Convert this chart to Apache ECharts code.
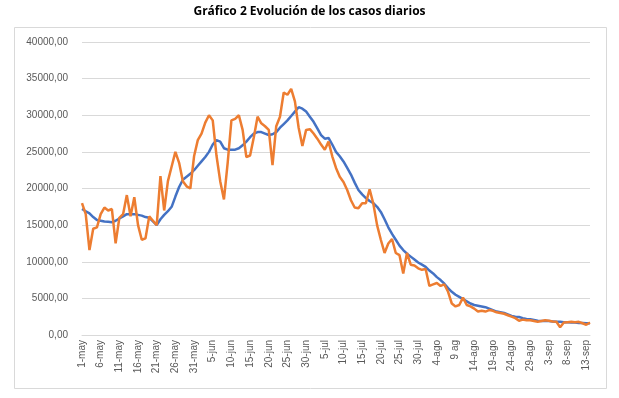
<!DOCTYPE html>
<html>
<head>
<meta charset="utf-8">
<script src="https://cdn.jsdelivr.net/npm/echarts@6/dist/echarts.min.js"></script>
<style>
html,body{margin:0;padding:0;background:#fff;}
#c{width:619px;height:398px;}
</style>
</head>
<body>
<div id="c"></div>
<script>
const titleText = "Gráfico 2 Evolución de los casos diarios";

const categories = [
"1-may","2-may","3-may","4-may","5-may","6-may","7-may","8-may","9-may","10-may",
"11-may","12-may","13-may","14-may","15-may","16-may","17-may","18-may","19-may","20-may",
"21-may","22-may","23-may","24-may","25-may","26-may","27-may","28-may","29-may","30-may",
"31-may","1-jun","2-jun","3-jun","4-jun","5-jun","6-jun","7-jun","8-jun","9-jun",
"10-jun","11-jun","12-jun","13-jun","14-jun","15-jun","16-jun","17-jun","18-jun","19-jun",
"20-jun","21-jun","22-jun","23-jun","24-jun","25-jun","26-jun","27-jun","28-jun","29-jun",
"30-jun","1-jul","2-jul","3-jul","4-jul","5-jul","6-jul","7-jul","8-jul","9-jul",
"10-jul","11-jul","12-jul","13-jul","14-jul","15-jul","16-jul","17-jul","18-jul","19-jul",
"20-jul","21-jul","22-jul","23-jul","24-jul","25-jul","26-jul","27-jul","28-jul","29-jul",
"30-jul","31-jul","1-ago","2-ago","3-ago","4-ago","5-ago","6-ago","7-ago","8-ago",
"9 ag","10-ago","11-ago","12-ago","13-ago","14-ago","15-ago","16-ago","17-ago","18-ago",
"19-ago","20-ago","21-ago","22-ago","23-ago","24-ago","25-ago","26-ago","27-ago","28-ago",
"29-ago","30-ago","31-ago","1-sep","2-sep","3-sep","4-sep","5-sep","6-sep","7-sep",
"8-sep","9-sep","10-sep","11-sep","12-sep","13-sep","14-sep"
];

const dailyCases = [
18000,16500,11600,14500,14700,16500,17400,17000,17200,12500,
16000,16500,19100,16200,18800,15000,13000,13200,16200,15600,
15000,21700,17000,21000,23000,25000,23500,21000,20300,20000,
24400,26600,27500,29000,30000,29300,24500,21000,18500,23500,
29300,29500,30000,28000,24300,24500,27000,29800,28900,28500,
28000,23200,28500,29800,33100,32800,33600,31900,28300,25800,
28000,28100,27500,26800,26000,25300,26400,24400,22800,21600,
20900,19800,18400,17400,17300,18000,18000,19900,17900,15000,
13000,11200,12500,13100,11200,10900,8400,11200,9600,9500,
9100,8900,9000,6700,6900,7100,6700,6900,5900,4300,
3900,4100,5100,4100,3900,3600,3200,3300,3200,3400,
3300,3100,3000,2900,2700,2500,2300,1950,2100,2000,
2000,1900,1800,1900,2000,1950,1850,1800,1050,1700,
1750,1800,1750,1800,1600,1400,1700
];

const movingAverage = [
17200,16900,16600,16100,15700,15600,15500,15450,15400,15600,
15900,16200,16500,16500,16500,16400,16300,16100,16000,15500,
15000,15800,16400,16900,17500,18900,20200,21200,21600,22000,
22500,23100,23700,24300,25000,26000,26600,26400,25500,25300,
25300,25300,25500,25900,26400,27000,27500,27700,27700,27500,
27300,27400,27700,28300,28800,29300,29900,30500,31100,30900,
30500,29800,29100,28200,27300,26800,26900,26000,25000,24400,
23700,22800,21900,20800,19800,19200,18700,18300,18000,17500,
16800,15800,14700,13800,13000,12200,11600,11100,10700,10300,
9900,9600,9300,8800,8400,7900,7500,7000,6400,5900,
5500,5200,4900,4600,4300,4100,4000,3900,3800,3600,
3400,3200,3100,3000,2800,2600,2500,2450,2300,2200,
2150,2050,1950,1900,1900,1900,1850,1800,1800,1750,
1750,1700,1700,1650,1650,1600,1600
];

const yTicks = { min: 0, max: 40000, interval: 5000 };

const chart = echarts.init(document.getElementById('c'), null, {renderer:'canvas'});
const font = "'Liberation Sans', Arial, sans-serif";
chart.setOption({
  animation: false,
  backgroundColor: '#ffffff',
  title: {
    text: titleText,
    left: 'center',
    top: 1,
    textStyle: { fontFamily: "'Open Sans', sans-serif", fontSize: 12, fontWeight: 'bold', color: '#000000' }
  },
  graphic: [{
    type: 'rect',
    shape: { x: 14.5, y: 27.5, width: 592, height: 361 },
    style: { fill: 'none', stroke: '#d9d9d9', lineWidth: 1 },
    z: -1
  }],
  grid: { left: 82, right: 29, top: 42, bottom: 63, containLabel: false },
  xAxis: {
    type: 'category',
    data: categories,
    boundaryGap: false,
    axisLine: { show: true, lineStyle: { color: '#d9d9d9', width: 1 } },
    axisTick: { show: false },
    axisLabel: {
      interval: 4,
      rotate: 90,
      color: '#595959',
      fontFamily: font,
      fontSize: 10,
      margin: 5
    },
    splitLine: { show: false }
  },
  yAxis: {
    type: 'value',
    min: yTicks.min,
    max: yTicks.max,
    interval: yTicks.interval,
    axisLine: { show: false },
    axisTick: { show: false },
    axisLabel: {
      color: '#595959',
      fontFamily: font,
      fontSize: 10,
      margin: 14,
      formatter: v => v.toFixed(2).replace('.', ',')
    },
    splitLine: { lineStyle: { color: '#d9d9d9', width: 1 } }
  },
  series: [
    {
      name: 'Media móvil',
      type: 'line',
      data: movingAverage,
      showSymbol: false,
      symbol: 'none',
      lineStyle: { color: '#4472C4', width: 2.5 },
      itemStyle: { color: '#4472C4' },
      z: 2
    },
    {
      name: 'Casos diarios',
      type: 'line',
      data: dailyCases,
      showSymbol: false,
      symbol: 'none',
      lineStyle: { color: '#ED7D31', width: 2.5 },
      itemStyle: { color: '#ED7D31' },
      z: 3
    }
  ]
});
</script>
</body>
</html>
